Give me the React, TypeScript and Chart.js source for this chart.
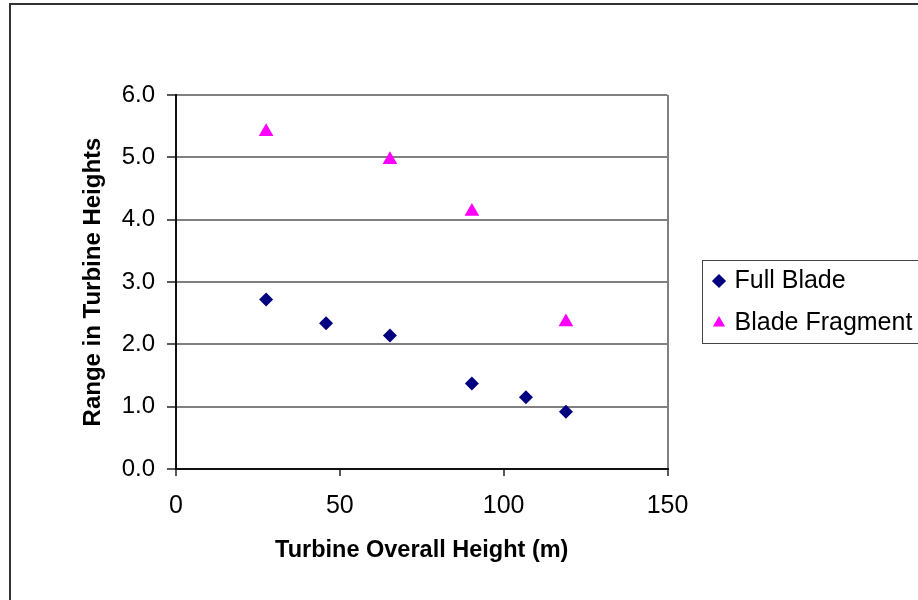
import React, { useEffect, useRef } from 'react';
import { Chart, registerables } from 'chart.js';
Chart.register(...registerables);

const seriesNames = ['Full Blade', 'Blade Fragment'];
const fullBladeX = [27.5, 45.8, 65.3, 90.3, 106.8, 119.0];
const fullBladeY = [2.72, 2.34, 2.14, 1.37, 1.15, 0.92];
const fragmentX = [27.5, 65.3, 90.3, 119.0];
const fragmentY = [5.41, 4.96, 4.13, 2.36];
const xTicks = [0, 50, 100, 150];
const yTicks = [0, 1, 2, 3, 4, 5, 6];
const xTitle = 'Turbine Overall Height (m)';
const yTitle = 'Range in Turbine Heights';

const FONT = "'Liberation Sans', Arial, sans-serif";

const decorPlugin = {
  id: 'decor',
  beforeDraw(chart: any) {
    const ctx = chart.ctx;
    ctx.save();
    ctx.fillStyle = '#ffffff';
    ctx.fillRect(0, 0, chart.width, chart.height);
    ctx.restore();
  },
  afterLayout(chart: any) {
    const lg = chart.legend;
    if (lg) {
      const w = lg.width;
      lg.left = 699;
      lg.right = 699 + w;
      lg.top = 2;
      lg.bottom = 602;
    }
  },
  afterDraw(chart: any) {
    const ctx = chart.ctx;
    ctx.save();
    ctx.strokeStyle = '#333333';
    ctx.lineWidth = 2;
    ctx.beginPath();
    ctx.moveTo(10, 600);
    ctx.lineTo(10, 4);
    ctx.lineTo(918, 4);
    ctx.stroke();
    ctx.lineWidth = 1;
    ctx.strokeStyle = '#444444';
    ctx.strokeRect(702.5, 260.5, 260, 83);
    ctx.restore();
  },
};

export default function App() {
  const ref = useRef<HTMLCanvasElement | null>(null);
  useEffect(() => {
    if (!ref.current) return;
    Chart.defaults.font.family = FONT;
    const chart = new Chart(ref.current, {
      type: 'scatter',
      data: {
        datasets: [
          {
            label: seriesNames[0],
            data: fullBladeX.map((x, i) => ({ x, y: fullBladeY[i] })),
            pointStyle: 'rectRot',
            pointRadius: 7,
            backgroundColor: '#000080',
            borderColor: '#000080',
            borderWidth: 0,
          },
          {
            label: seriesNames[1],
            data: fragmentX.map((x, i) => ({ x, y: fragmentY[i] })),
            pointStyle: 'triangle',
            pointRadius: 8.5,
            backgroundColor: '#FF00FF',
            borderColor: '#FF00FF',
            borderWidth: 0,
          },
        ],
      },
      options: {
        responsive: false,
        animation: false,
        events: [],
        devicePixelRatio: 1,
        layout: { padding: { left: 0, top: 95, right: 28, bottom: 0 } },
        plugins: {
          tooltip: { enabled: false },
          legend: {
            position: 'right',
            labels: {
              usePointStyle: true,
              boxWidth: 6,
              boxHeight: 10,
              padding: 17,
              color: '#000000',
              font: { size: 25, family: FONT },
            },
          },
        },
        scales: {
          x: {
            type: 'linear',
            min: xTicks[0],
            max: xTicks[xTicks.length - 1],
            afterBuildTicks: (s: any) => {
              s.ticks = xTicks.map((v) => ({ value: v }));
            },
            afterFit: (s: any) => {
              s.height = 131;
            },
            ticks: {
              autoSkip: false,
              maxRotation: 0,
              padding: 15,
              color: '#000000',
              font: { size: 25, family: FONT },
            },
            grid: {
              drawOnChartArea: true,
              color: (c: any) => (c.tick && c.tick.value === 150 ? '#808080' : 'rgba(0,0,0,0)'),
              lineWidth: 2,
              tickColor: '#222222',
              tickLength: 7,
              tickWidth: 1.5,
            },
            border: { display: true, color: '#111111', width: 2 },
            title: {
              display: true,
              text: xTitle,
              color: '#000000',
              font: { size: 23.5, weight: 'bold', family: FONT },
              padding: { top: 0, bottom: 35 },
            },
          },
          y: {
            type: 'linear',
            min: yTicks[0],
            max: yTicks[yTicks.length - 1],
            afterBuildTicks: (s: any) => {
              s.ticks = yTicks.map((v) => ({ value: v }));
            },
            afterFit: (s: any) => {
              s.width = 176;
            },
            ticks: {
              padding: 12,
              color: '#000000',
              font: { size: 24, family: FONT },
              callback: (v: any) => Number(v).toFixed(1),
            },
            grid: {
              color: '#808080',
              lineWidth: 2,
              tickColor: '#222222',
              tickLength: 9,
              tickWidth: 1.5,
            },
            border: { display: true, color: '#111111', width: 2 },
            title: {
              display: true,
              text: yTitle,
              color: '#000000',
              font: { size: 24, weight: 'bold', family: FONT },
              padding: { top: 79, bottom: 0 },
            },
          },
        },
      },
      plugins: [decorPlugin],
    } as any);
    return () => chart.destroy();
  }, []);
  return (
    <div style={{ position: 'absolute', left: 0, top: 0, width: 918, height: 600, background: '#fff' }}>
      <canvas ref={ref} width={918} height={600} style={{ display: 'block' }} />
    </div>
  );
}
